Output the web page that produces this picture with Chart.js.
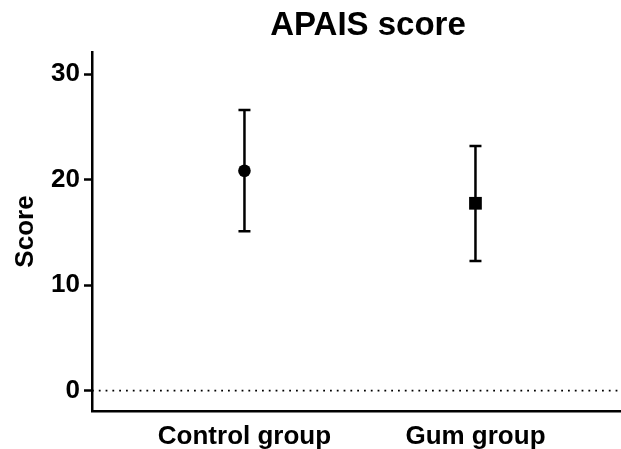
<!DOCTYPE html>
<html>
<head>
<meta charset="utf-8">
<script src="https://cdn.jsdelivr.net/npm/chart.js@4"></script>
<style>
  html, body { margin: 0; padding: 0; background: #fff; }
  #wrap { width: 621px; height: 449px; }
</style>
</head>
<body>
<div id="wrap"><canvas id="apaisChart" width="621" height="449"></canvas></div>
<script>
// values
const categories = ["Control group", "Gum group"];
const means = [20.85, 17.76];
const upper = [26.6, 23.2];
const lower = [15.1, 12.3];
const yTicks = [0, 10, 20, 30];

const font = "'Liberation Sans', Arial, Helvetica, sans-serif";

// error bars, drawn under the markers
const errorBars = {
  id: "errorBars",
  beforeDatasetsDraw(chart) {
    const { ctx, scales } = chart;
    ctx.save();
    ctx.strokeStyle = "#000";
    ctx.lineWidth = 2.5;
    for (let i = 0; i < categories.length; i++) {
      const x = scales.x.getPixelForValue(i + 1);
      const yTop = scales.y.getPixelForValue(upper[i]);
      const yBot = scales.y.getPixelForValue(lower[i]);
      ctx.beginPath();
      ctx.moveTo(x, yTop);
      ctx.lineTo(x, yBot);
      ctx.moveTo(x - 6, yTop);
      ctx.lineTo(x + 6, yTop);
      ctx.moveTo(x - 6, yBot);
      ctx.lineTo(x + 6, yBot);
      ctx.stroke();
    }
    ctx.restore();
  },
};

// title centred where the original has it
const titleText = {
  id: "titleText",
  afterDraw(chart) {
    const ctx = chart.ctx;
    ctx.save();
    ctx.font = "bold 33px " + font;
    ctx.fillStyle = "#000";
    ctx.textAlign = "center";
    ctx.textBaseline = "middle";
    ctx.fillText("APAIS score", 368, 26);
    ctx.restore();
  },
};

new Chart(document.getElementById("apaisChart"), {
  type: "scatter",
  data: {
    datasets: [
      {
        data: means.map((m, i) => ({ x: i + 1, y: m })),
        pointStyle: ["circle", "rect"],
        pointRadius: [6.3, 9],
        backgroundColor: "#000",
        borderColor: "#000",
        borderWidth: 0,
      },
      {
        type: "line",
        data: [{ x: 0.34, y: 0 }, { x: 2.63, y: 0 }],
        borderColor: "#000",
        borderWidth: 1.8,
        borderDash: [1.8, 5],
        pointRadius: 0,
        fill: false,
      },
    ],
  },
  options: {
    responsive: false,
    animation: false,
    // no auto padding for the point size, plot runs to the right edge
    layout: { autoPadding: false, padding: { top: 52, left: 0, right: 0, bottom: 0 } },
    plugins: {
      legend: { display: false },
      tooltip: { enabled: false },
      title: { display: false },
    },
    scales: {
      x: {
        type: "linear",
        min: 0.34,
        max: 2.63,
        afterBuildTicks: (scale) => {
          scale.ticks = categories.map((c, i) => ({ value: i + 1 }));
        },
        afterFit: (scale) => {
          scale.height = 38;
        },
        grid: { display: false, drawTicks: false },
        border: { display: true, color: "#000", width: 2.5 },
        ticks: {
          color: "#000",
          padding: 10,
          maxRotation: 0,
          font: { family: font, size: 26, weight: "bold" },
          callback: (v) => categories[v - 1] || "",
        },
      },
      y: {
        min: -1.93,
        max: 32.1,
        afterBuildTicks: (scale) => {
          scale.ticks = yTicks.map((v) => ({ value: v }));
        },
        afterFit: (scale) => {
          scale.width = 92;
        },
        grid: {
          drawOnChartArea: false,
          drawTicks: true,
          tickLength: 8,
          tickColor: "#000",
          tickWidth: 2.5,
        },
        border: { display: true, color: "#000", width: 2.5 },
        ticks: {
          color: "#000",
          padding: 4,
          font: { family: font, size: 26, weight: "bold" },
        },
        title: {
          display: true,
          text: "Score",
          color: "#000",
          padding: { top: 10, bottom: 0 },
          font: { family: font, size: 26, weight: "bold" },
        },
      },
    },
  },
  plugins: [errorBars, titleText],
});
</script>
</body>
</html>
